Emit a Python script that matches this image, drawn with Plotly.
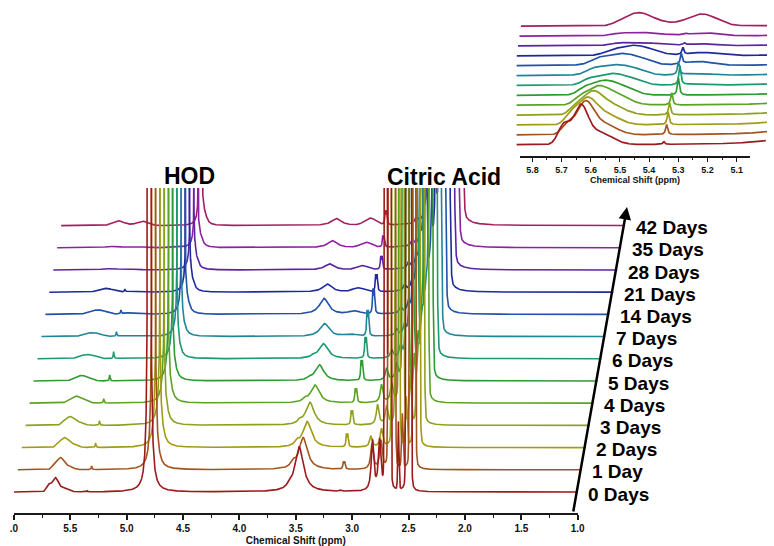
import numpy as np
import plotly.graph_objects as go

W, H = 774, 546

# ---- stack labels and colours (bottom to top) ----
days = ["0 Days", "1 Day", "2 Days", "3 Days", "4 Days", "5 Days", "6 Days",
        "7 Days", "14 Days", "21 Days", "28 Days", "35 Days", "42 Days"]
colors = ["#9c1a1c", "#a3531d", "#a39a16", "#8ca21e", "#5ba324", "#2f9a32", "#1a9a6e",
          "#1f8598", "#2052a8", "#1d2a9c", "#5b24a3", "#8d22a0", "#a41f5e"]

# ---- peak tables (chemical shift in ppm, intensity in stacked units) ----
# olefinic region, main band
ol1_c = [5.635, 5.625, 5.625, 5.612, 5.600, 5.590, 5.575, 5.570, 5.550, 5.510, 5.500, 5.500, 5.500]
ol1_h = [12.5, 10.5, 8.5, 7.5, 6.0, 4.5, 3.6, 3.4, 4.0, 3.4, 1.2, 1.2, 4.6]
ol1_w = [0.024, 0.028, 0.032, 0.035, 0.040, 0.045, 0.050, 0.055, 0.060, 0.055, 0.060, 0.060, 0.045]
# olefinic, upfield tail
ol2_c = [5.575, 5.565, 5.560, 5.545, 5.530, 5.520, 5.500, 5.490, 5.470, 5.440, 5.420, 5.420, 5.420]
ol2_h = [4.5, 4.0, 3.8, 3.4, 3.0, 2.5, 2.0, 1.8, 1.4, 1.0, 0.3, 0.3, 1.0]
# olefinic, downfield shoulder
ol3_c = [5.692, 5.685, 5.680, 5.670, 5.660, 5.650, 5.640, 5.630, 5.620, 5.580, 5.560, 5.560, 5.560]
ol3_h = [7.0, 3.5, 3.0, 2.0, 1.5, 1.2, 1.0, 0.8, 0.8, 0.6, 0.3, 0.3, 0.6]
# sharp line near 5.3 ppm
sp_c = [5.350, 5.345, 5.345, 5.345, 5.343, 5.325, 5.325, 5.335, 5.330, 5.330, 5.330, 5.330, 5.330]
sp_h = [1.0, 3.6, 4.6, 4.3, 4.3, 6.1, 6.8, 4.6, 3.6, 2.5, 0.7, 0.4, 0.0]
# broad band near 5.27 ppm (late samples)
b52_c = [5.27, 5.27, 5.27, 5.27, 5.27, 5.27, 5.27, 5.27, 5.27, 5.26, 5.27, 5.27, 5.28]
b52_h = [0, 0, 0, 0, 0, 0, 0.4, 0.7, 1.4, 1.1, 0.7, 1.1, 4.3]
# residual water (HOD): core height, wing area, shoulder and satellite line
hod_c = [4.800, 4.797, 4.794, 4.792, 4.789, 4.786, 4.783, 4.780, 4.778, 4.775, 4.772, 4.769, 4.766]
hod_h = [3000, 3000, 3000, 3000, 3000, 3000, 3000, 3000, 3000, 3000, 3000, 3000, 3000]
hod_a = [0.060, 0.050, 0.045, 0.040, 0.035, 0.030, 0.027, 0.024, 0.020, 0.017, 0.015, 0.013, 0.012]
hod_sh_h = [0, 2, 3, 3, 3, 3, 3, 4, 5, 6, 6, 6, 6]
hod_sp_h = [0, 0, 0, 0, 2, 3, 5, 6, 8, 9, 9, 7, 11]
# 3.5 ppm band and its shoulder
c_c = [3.470, 3.470, 3.470, 3.480, 3.470, 3.465, 3.465, 3.490, 3.530, 3.535, 3.550, 3.560, 3.560]
c_h = [45, 32, 26, 23, 18, 16, 15, 13, 16, 8, 6, 7, 7]
c_w = [0.045, 0.045, 0.045, 0.045, 0.046, 0.046, 0.047, 0.048, 0.048, 0.05, 0.05, 0.05, 0.05]
cs_h = [3, 5, 4, 3, 3, 2, 2, 0, 0, 0, 0, 0, 0]
# doublet near 3.1 ppm
d_c = [3.100, 3.107, 3.115, 3.107, 3.107, 3.090, 3.090, 3.107, 3.090, 3.100, 3.090, 3.107, 3.120]
d_h = [1, 8, 14, 15, 15, 21, 22, 27, 26, 18, 14, 12, 15]
# broad band near 3.26 ppm
f_h = [0, 0, 0, 0, 0, 0, 0, 2, 3, 4, 4, 5, 7]
# pair of lines between 2.75 and 2.9 ppm
e1_c = [2.820, 2.860, 2.905, 2.880, 2.880, 2.870, 2.860, 2.850, 2.850, 2.850, 2.850, 2.850, 2.850]
e1_h = [50, 25, 11, 20, 18, 12, 8, 6, 6, 6, 6, 6, 6]
e2_c = [2.757, 2.780, 2.810, 2.800, 2.790, 2.780, 2.780, 2.780, 2.780, 2.780, 2.780, 2.780, 2.780]
e2_h = [50, 28, 18, 18, 18, 15, 12, 10, 10, 10, 10, 10, 10]
# citric acid multiplet: line positions, relative intensity, core height and wing area
cit_c = [2.702, 2.668, 2.590, 2.512, 2.488]
cit_rel = [1.0, 1.0, 0.012, 1.0, 1.0]
cit_h = [3000, 3000, 3000, 3000, 3000, 3000, 3000, 3000, 3000, 3000, 3000, 3000, 3000]
cit_a = [0.004, 0.005, 0.006, 0.008, 0.010, 0.012, 0.014, 0.016, 0.019, 0.022, 0.025, 0.028, 0.032]
# additional lines growing inside the citrate envelope over time
cit2_c = [2.635, 2.555]
cit2_h = [0, 0, 0, 0, 50, 80, 120, 160, 200, 200, 200, 200, 200]

# ---- line-shape settings ----
OL_TAIL_W, OL_SH_W = 0.045, 0.02
SHARP_W = 0.004
B52_W = 0.05
HOD_S, HOD_W = 0.006, 0.005
D_SPLIT, D_W = 0.012, 0.005
E_W = 0.013
F_C, F_W = 3.26, 0.05
CIT_S0, CIT_DS = 0.006, 0.0011


def lor(x, c, h, w):
    return h * w ** 2 / ((x - c) ** 2 + w ** 2)


def gau(x, c, h, s):
    return h * np.exp(-0.5 * ((x - c) / s) ** 2)


def spectrum(ppm, k):
    y = np.zeros_like(ppm)
    y += gau(ppm, ol1_c[k], ol1_h[k], ol1_w[k])
    y += gau(ppm, ol2_c[k], ol2_h[k], OL_TAIL_W)
    y += gau(ppm, ol3_c[k], ol3_h[k], OL_SH_W)
    y += lor(ppm, sp_c[k], sp_h[k], SHARP_W)
    y += gau(ppm, b52_c[k], b52_h[k], B52_W)
    y += gau(ppm, hod_c[k], hod_h[k], HOD_S)
    y += lor(ppm, hod_c[k], hod_a[k] / HOD_W ** 2, HOD_W)
    y += lor(ppm, hod_c[k] - 0.045, hod_sh_h[k], 0.02)
    y += lor(ppm, hod_c[k] - 0.03, hod_sp_h[k], SHARP_W)
    y += lor(ppm, c_c[k], c_h[k], c_w[k])
    y += lor(ppm, c_c[k] + 0.09, cs_h[k], 0.02)
    y += lor(ppm, d_c[k] + D_SPLIT / 2, 0.85 * d_h[k], D_W)
    y += lor(ppm, d_c[k] - D_SPLIT / 2, 0.85 * d_h[k], D_W)
    y += gau(ppm, F_C, f_h[k], F_W)
    y += lor(ppm, e1_c[k], e1_h[k], E_W)
    y += lor(ppm, e2_c[k], e2_h[k], E_W)
    s = CIT_S0 + CIT_DS * k
    w = 0.003 + 0.0015 * k
    for c, r in zip(cit_c, cit_rel):
        y += gau(ppm, c, r * cit_h[k], s)
        y += lor(ppm, c, min(r * 6, 1.0) * cit_a[k] / w ** 2, w)
    for c in cit2_c:
        y += gau(ppm, c, cit2_h[k], s)
    return y


def px_x(p):
    return p / W


def px_y(p):
    return 1 - p / H


# ---- geometry of the stacks ----
PPM_PX = 114.4          # pixels per ppm on the main axis
MAIN_SKEW = 4.0 / PPM_PX
MAIN_STEP = 22.2
INSET_PPM_PX = 296.0
INSET_SKEW = 1.5 / INSET_PPM_PX
INSET_STEP = 9.9
INSET_GAIN = 2.8

fig = go.Figure()

own_main = np.arange(6.0, 0.9999, -0.001)
own_inset = np.arange(5.90, 5.00, -0.0008)

for k in reversed(range(len(days))):
    fig.add_trace(go.Scatter(
        x=own_main - k * MAIN_SKEW, y=spectrum(own_main, k) + k * MAIN_STEP,
        mode="lines", line=dict(color=colors[k], width=1.6),
        xaxis="x", yaxis="y", showlegend=False, hoverinfo="skip"))
for k in reversed(range(len(days))):
    fig.add_trace(go.Scatter(
        x=own_inset - k * INSET_SKEW, y=spectrum(own_inset, k) * INSET_GAIN + k * INSET_STEP,
        mode="lines", line=dict(color=colors[k], width=1.7),
        xaxis="x3", yaxis="y3", showlegend=False, hoverinfo="skip"))

# empty traces so the scale-only subplots exist
fig.add_trace(go.Scatter(x=[], y=[], xaxis="x2", yaxis="y2", showlegend=False))
fig.add_trace(go.Scatter(x=[], y=[], xaxis="x4", yaxis="y4", showlegend=False))

FONT = "Arial, Liberation Sans, sans-serif"
main_dom_y = [px_y(513), px_y(188)]
inset_dom_y = [px_y(156), 1.0]

axis_style = dict(showline=True, linecolor="#1a1a1a", ticks="outside", tickcolor="#1a1a1a",
                  showgrid=False, zeroline=False, autorange=False)

fig.update_layout(
    width=W, height=H, margin=dict(l=0, r=0, t=0, b=0),
    paper_bgcolor="white", plot_bgcolor="rgba(0,0,0,0)",
    showlegend=False,
    xaxis=dict(domain=[px_x(10), px_x(632)], range=[6.0, 6.0 - 622 / PPM_PX],
               visible=False, anchor="y"),
    yaxis=dict(domain=main_dom_y, range=[-21, 304], visible=False, anchor="x"),
    xaxis2=dict(domain=[px_x(10), px_x(582)], range=[6.0, 1.0], anchor="y2",
                linewidth=2, ticklen=5, tickwidth=1.5,
                tickvals=[6.0, 5.5, 5.0, 4.5, 4.0, 3.5, 3.0, 2.5, 2.0, 1.5, 1.0],
                ticktext=[".0", "5.5", "5.0", "4.5", "4.0", "3.5", "3.0", "2.5", "2.0", "1.5", "1.0"],
                minor=dict(dtick=0.25, ticklen=3, tickwidth=1.2, tickcolor="#1a1a1a", ticks="outside"),
                tickfont=dict(family=FONT, size=10, color="#111", weight="bold"),
                title=dict(text="Chemical Shift (ppm)", standoff=4,
                           font=dict(family=FONT, size=10, color="#111", weight="bold")),
                **axis_style),
    yaxis2=dict(domain=main_dom_y, range=[0, 1], visible=False, anchor="x2"),
    xaxis3=dict(domain=[px_x(520), 1.0], range=[5.8 + 16 / INSET_PPM_PX, 5.8 - 238 / INSET_PPM_PX],
                visible=False, anchor="y3"),
    yaxis3=dict(domain=inset_dom_y, range=[-11, 145], visible=False, anchor="x3"),
    xaxis4=dict(domain=[px_x(523), px_x(757)],
                range=[5.8 + 13 / INSET_PPM_PX, 5.8 - 221 / INSET_PPM_PX], anchor="y4",
                linewidth=2, ticklen=4, tickwidth=1.3, dtick=0.1, tick0=5.0, tickformat=".1f",
                minor=dict(dtick=0.05, ticklen=2, tickwidth=1, tickcolor="#1a1a1a", ticks="outside"),
                tickfont=dict(family=FONT, size=9, color="#111", weight="bold"),
                title=dict(text="Chemical Shift (ppm)", standoff=3,
                           font=dict(family=FONT, size=9, color="#111", weight="bold")),
                **axis_style),
    yaxis4=dict(domain=inset_dom_y, range=[0, 1], visible=False, anchor="x4"),
)

annotations = [
    dict(text="HOD", x=px_x(188), y=px_y(176), xref="paper", yref="paper",
         xanchor="center", yanchor="middle", showarrow=False,
         font=dict(family=FONT, size=23, color="black", weight="bold")),
    dict(text="Citric Acid", x=px_x(446), y=px_y(177), xref="paper", yref="paper",
         xanchor="center", yanchor="middle", showarrow=False,
         font=dict(family=FONT, size=23, color="black", weight="bold")),
    dict(text="", x=px_x(632), y=px_y(207), xref="paper", yref="paper",
         ax=-54, ay=306, axref="pixel", ayref="pixel", showarrow=True,
         arrowhead=2, arrowsize=1, arrowwidth=2.5, arrowcolor="black"),
]
for k, label in enumerate(days):
    annotations.append(dict(
        text=label, x=px_x(591 + 4.1 * k), y=k * MAIN_STEP, xref="paper", yref="y",
        xanchor="left", yanchor="middle", yshift=-2, showarrow=False,
        borderpad=0,
        font=dict(family=FONT, size=19, color="black", weight="bold")))
fig.update_layout(annotations=annotations)

fig.write_html("out.html")
